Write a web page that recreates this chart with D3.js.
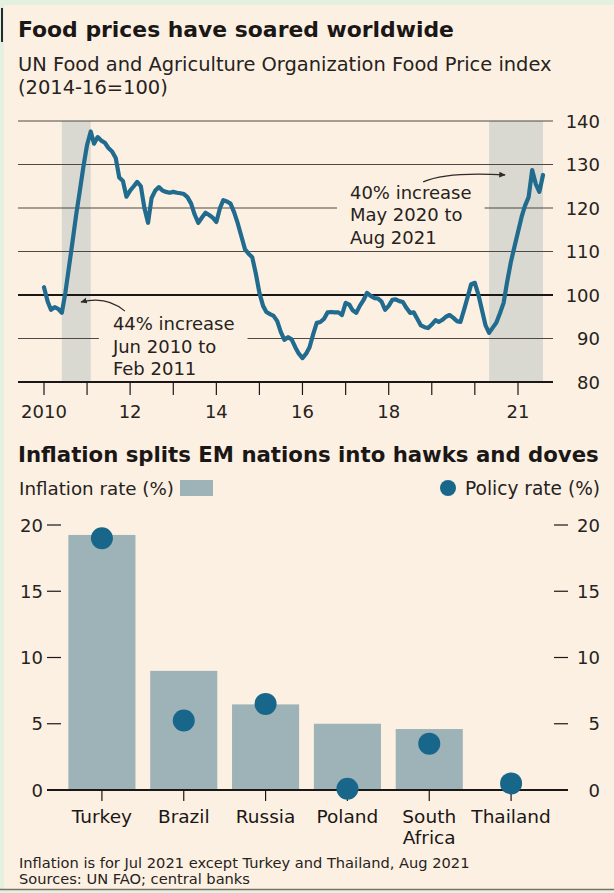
<!DOCTYPE html>
<html>
<head>
<meta charset="utf-8">
<script src="https://cdn.jsdelivr.net/npm/d3@7"></script>
<style>
  html, body { margin: 0; padding: 0; background: #e4f1e1; }
  svg { display: block; font-family: "DejaVu Sans", "Noto Sans", sans-serif; }
</style>
</head>
<body>
<svg id="chart" width="614" height="893"></svg>
<script>
// ---- Food price index: monthly, starting January 2010 (2014-16 = 100) ----
const fpiStartYear = 2010;
const foodPriceIndex = [
  101.8, 98.5, 96.6, 97.2, 96.8, 95.9, 100.5, 106.5, 112.5, 118.5, 124.0, 129.5, // 2010
  134.5, 137.6, 134.8, 136.3, 135.5, 135.0, 133.8, 133.0, 131.5, 127.0, 126.2, 122.6, // 2011
  124.0, 125.0, 126.0, 125.0, 120.0, 116.6, 122.3, 124.0, 124.8, 124.0, 123.7, 123.5, // 2012
  123.7, 123.5, 123.4, 123.2, 122.5, 121.0, 118.5, 116.6, 117.8, 118.9, 118.4, 117.8, // 2013
  116.8, 120.0, 121.8, 121.5, 121.0, 119.0, 116.5, 113.5, 110.5, 109.5, 108.7, 105.0, // 2014
  100.5, 97.5, 96.1, 95.6, 95.2, 94.0, 91.5, 89.7, 90.3, 89.8, 88.0, 86.5,             // 2015
  85.5, 86.5, 88.0, 91.0, 93.6, 93.8, 94.5, 96.0, 96.1, 96.0, 96.0, 95.4,              // 2016
  98.2, 97.8, 96.5, 95.9, 97.5, 98.8, 100.5, 99.8, 99.3, 99.2, 98.5, 96.6,             // 2017
  97.5, 98.9, 99.0, 98.6, 98.4, 97.0, 95.9, 96.0, 94.5, 93.0, 92.6, 92.4,              // 2018
  93.2, 94.2, 93.8, 94.3, 95.0, 95.4, 94.8, 94.0, 93.8, 96.5, 99.5, 102.5,             // 2019
  102.8, 100.0, 96.6, 93.0, 91.3, 92.5, 93.6, 95.8, 98.2, 103.0, 107.5, 111.0,         // 2020
  114.5, 118.0, 120.5, 122.5, 128.7, 125.5, 123.7, 127.6                              // 2021
];
const yearTicks = [2010, 2011, 2012, 2013, 2014, 2015, 2016, 2017, 2018, 2019, 2020, 2021];
const yearTickLabels = ["2010", "", "12", "", "14", "", "16", "", "18", "", "", "21"];
const indexTicks = [80, 90, 100, 110, 120, 130, 140];
// surge periods: [year, month index] start and end
const surgeStarts = [[2010, 5], [2020, 4]];
const surgeEnds = [[2011, 1], [2021, 7]];
const surgeNotes = [
  ["44% increase", "Jun 2010 to", "Feb 2011"],
  ["40% increase", "May 2020 to", "Aug 2021"]
];

// ---- EM inflation vs policy rates ----
const countries = ["Turkey", "Brazil", "Russia", "Poland", "South Africa", "Thailand"];
const inflationRate = [19.25, 8.99, 6.46, 5.0, 4.6, 0.02];
const policyRate = [19.0, 5.25, 6.5, 0.1, 3.5, 0.5];
const rateTicks = [0, 5, 10, 15, 20];

// ---- colours ----
const C = {
  paper: "#fcf0e2",
  ink: "#1a1716",
  text: "#262220",
  grid: "#4f4845",
  shade: "#d9d9d1",
  line: "#216b8f",
  bar: "#9db3b7",
  dot: "#18678b"
};

const svg = d3.select("#chart");

// decimal year -> Date
function fy(v) {
  const yr = Math.floor(v);
  const a = new Date(yr, 0, 1), b = new Date(yr + 1, 0, 1);
  return new Date(+a + (v - yr) * (b - a));
}

function fitWidth(sel, w) {
  const len = sel.node().getComputedTextLength();
  const fs = parseFloat(sel.attr("font-size"));
  sel.attr("font-size", (fs * w / len).toFixed(2));
  return sel;
}

// card
svg.append("rect").attr("x", 0).attr("y", 0).attr("width", 614).attr("height", 893).attr("fill", "#e4f1e1");
svg.append("rect").attr("x", 4).attr("y", 5).attr("width", 610).attr("height", 884).attr("fill", C.paper);
svg.append("line").attr("x1", 0).attr("x2", 614).attr("y1", 889.5).attr("y2", 889.5)
  .attr("stroke", "#7b7165").attr("stroke-width", 1.5);
svg.append("line").attr("x1", 2).attr("x2", 2).attr("y1", 8).attr("y2", 42)
  .attr("stroke", "#2b2b2b").attr("stroke-width", 2);

// ================= Top chart =================
const title1 = svg.append("text").attr("x", 18).attr("y", 37)
  .attr("font-size", 20).attr("font-weight", "bold").attr("fill", C.ink)
  .text("Food prices have soared worldwide");
fitWidth(title1, 436);

const sub1 = svg.append("text").attr("x", 18).attr("y", 71)
  .attr("font-size", 18).attr("fill", C.text)
  .text("UN Food and Agriculture Organization Food Price index");
fitWidth(sub1, 534);
svg.append("text").attr("x", 18).attr("y", 94)
  .attr("font-size", sub1.attr("font-size")).attr("fill", C.text)
  .text("(2014-16=100)");

const monthDates = foodPriceIndex.map((v, i) => new Date(fpiStartYear, i, 1));
const x = d3.scaleTime()
  .domain([new Date(2010, 0, 1), new Date(2021, 0, 1)])
  .range([44, 518]);
const y = d3.scaleLinear().domain([80, 140]).range([382, 121]);
const plotL = 18, plotR = 553;

const topG = svg.append("g");

// shaded surge periods
topG.selectAll("rect.surge").data(surgeStarts).join("rect")
  .attr("class", "surge")
  .attr("x", d => x(new Date(d[0], d[1], 1)))
  .attr("width", (d, i) => x(new Date(surgeEnds[i][0], surgeEnds[i][1], 1)) - x(new Date(d[0], d[1], 1)))
  .attr("y", y(140)).attr("height", y(80) - y(140))
  .attr("fill", C.shade);

// horizontal grid
topG.selectAll("line.grid").data(indexTicks.filter(t => t !== 80)).join("line")
  .attr("class", "grid")
  .attr("x1", plotL).attr("x2", plotR)
  .attr("y1", d => y(d)).attr("y2", d => y(d))
  .attr("stroke", d => d === 100 ? C.ink : C.grid)
  .attr("stroke-width", d => d === 100 ? 1.9 : 1.2);

// right-hand value labels
topG.selectAll("text.ylab").data(indexTicks).join("text")
  .attr("class", "ylab")
  .attr("x", 600).attr("y", d => y(d) + 6.5)
  .attr("text-anchor", "end").attr("font-size", 18).attr("fill", C.text)
  .text(d => d);

// annotations (positions in data space)
const noteAnchors = [[2011.60, 91.9], [2017.10, 122.1]];
const arrowPaths = [
  [[2011.88, 96.3], [2011.46, 99.9], [2010.86, 98.4]],
  [[2018.80, 126.0], [2019.35, 128.4], [2020.70, 127.6]]
];

svg.append("defs").append("marker")
  .attr("id", "ah").attr("viewBox", "0 0 10 10")
  .attr("refX", 8).attr("refY", 5)
  .attr("markerWidth", 6).attr("markerHeight", 6)
  .attr("orient", "auto-start-reverse")
  .append("path").attr("d", "M0,1 L9,5 L0,9 Z").attr("fill", "#2e2a28");

const noteG = topG.append("g");
surgeNotes.forEach((lines, i) => {
  const g = noteG.append("g");
  const bg = g.append("rect").attr("fill", C.paper);
  const t = g.append("text")
    .attr("x", x(fy(noteAnchors[i][0])))
    .attr("y", y(noteAnchors[i][1]))
    .attr("font-size", 18).attr("fill", C.text);
  t.selectAll("tspan").data(lines).join("tspan")
    .attr("x", x(fy(noteAnchors[i][0])))
    .attr("dy", (d, j) => j === 0 ? 0 : 22.5)
    .text(d => d);
  const bb = t.node().getBBox();
  bg.attr("x", bb.x - 13).attr("y", bb.y - 1)
    .attr("width", bb.width + 26).attr("height", bb.height + 1);
  const p = arrowPaths[i].map(q => [x(fy(q[0])), y(q[1])]);
  g.append("path")
    .attr("d", `M${p[0][0]},${p[0][1]} Q${p[1][0]},${p[1][1]} ${p[2][0]},${p[2][1]}`)
    .attr("fill", "none").attr("stroke", "#2e2a28").attr("stroke-width", 1.2)
    .attr("marker-end", "url(#ah)");
});

// baseline axis + yearly ticks
topG.append("line").attr("x1", plotL).attr("x2", plotR)
  .attr("y1", y(80)).attr("y2", y(80))
  .attr("stroke", C.ink).attr("stroke-width", 2);
topG.selectAll("line.xt").data(yearTicks).join("line")
  .attr("class", "xt")
  .attr("x1", d => x(new Date(d, 0, 1))).attr("x2", d => x(new Date(d, 0, 1)))
  .attr("y1", y(80)).attr("y2", y(80) + 13)
  .attr("stroke", C.ink).attr("stroke-width", 1.2);
topG.selectAll("text.xl").data(yearTicks).join("text")
  .attr("class", "xl")
  .attr("x", d => x(new Date(d, 0, 1))).attr("y", 418)
  .attr("text-anchor", "middle").attr("font-size", 18).attr("fill", C.text)
  .text((d, i) => yearTickLabels[i]);

// index line
topG.append("path")
  .datum(foodPriceIndex)
  .attr("d", d3.line().x((d, i) => x(monthDates[i])).y(d => y(d)))
  .attr("fill", "none").attr("stroke", C.line).attr("stroke-width", 4.2)
  .attr("stroke-linejoin", "round").attr("stroke-linecap", "round");

// ================= Bottom chart =================
const title2 = svg.append("text").attr("x", 18).attr("y", 462)
  .attr("font-size", 20).attr("font-weight", "bold").attr("fill", C.ink)
  .text("Inflation splits EM nations into hawks and doves");
fitWidth(title2, 581);

const leg1 = svg.append("text").attr("x", 19).attr("y", 495)
  .attr("font-size", 17).attr("fill", C.text).text("Inflation rate (%)");
fitWidth(leg1, 155);
svg.append("rect").attr("x", 180).attr("y", 480).attr("width", 33).attr("height", 16).attr("fill", C.bar);
const leg2 = svg.append("text").attr("x", 600).attr("y", 495).attr("text-anchor", "end")
  .attr("font-size", 17).attr("fill", C.text).text("Policy rate (%)");
fitWidth(leg2, 135);
svg.append("circle").attr("cx", 448).attr("cy", 488).attr("r", 8).attr("fill", C.dot);

const xb = d3.scaleBand().domain(countries).range([61, 552])
  .paddingInner(0.18).paddingOuter(0.09);
const yb = d3.scaleLinear().domain([0, 20]).range([790, 525]);
const bot = svg.append("g");

// bars
bot.selectAll("rect.bar").data(countries).join("rect")
  .attr("class", "bar")
  .attr("x", d => xb(d)).attr("width", xb.bandwidth())
  .attr("y", (d, i) => yb(inflationRate[i]))
  .attr("height", (d, i) => yb(0) - yb(inflationRate[i]))
  .attr("fill", C.bar);

// left and right scales
const leftTicks = bot.append("g");
leftTicks.selectAll("line").data(rateTicks.filter(t => t > 0)).join("line")
  .attr("x1", 47).attr("x2", 61).attr("y1", d => yb(d)).attr("y2", d => yb(d))
  .attr("stroke", C.ink).attr("stroke-width", 1.2);
leftTicks.selectAll("text").data(rateTicks).join("text")
  .attr("x", 43).attr("y", d => yb(d) + 6.5).attr("text-anchor", "end")
  .attr("font-size", 18).attr("fill", C.text).text(d => d);
const rightTicks = bot.append("g");
rightTicks.selectAll("line").data(rateTicks.filter(t => t > 0)).join("line")
  .attr("x1", 554).attr("x2", 568).attr("y1", d => yb(d)).attr("y2", d => yb(d))
  .attr("stroke", C.ink).attr("stroke-width", 1.2);
rightTicks.selectAll("text").data(rateTicks).join("text")
  .attr("x", 600).attr("y", d => yb(d) + 6.5).attr("text-anchor", "end")
  .attr("font-size", 18).attr("fill", C.text).text(d => d);

// baseline and category ticks
bot.append("line").attr("x1", 47).attr("x2", 568).attr("y1", yb(0)).attr("y2", yb(0))
  .attr("stroke", C.ink).attr("stroke-width", 2);
bot.selectAll("line.ct").data(countries).join("line")
  .attr("class", "ct")
  .attr("x1", d => xb(d) + xb.bandwidth() / 2).attr("x2", d => xb(d) + xb.bandwidth() / 2)
  .attr("y1", yb(0)).attr("y2", yb(0) + 11)
  .attr("stroke", C.ink).attr("stroke-width", 1.2);

// policy-rate dots
bot.selectAll("circle.dot").data(countries).join("circle")
  .attr("class", "dot")
  .attr("cx", d => xb(d) + xb.bandwidth() / 2)
  .attr("cy", (d, i) => yb(policyRate[i]))
  .attr("r", 11).attr("fill", C.dot);

// category labels
bot.selectAll("text.cat").data(countries).join("text")
  .attr("class", "cat")
  .attr("x", d => xb(d) + xb.bandwidth() / 2).attr("y", 823)
  .attr("text-anchor", "middle").attr("font-size", 18.5).attr("fill", C.ink)
  .each(function (d) {
    const words = d === "South Africa" ? ["South", "Africa"] : [d];
    const cx = xb(d) + xb.bandwidth() / 2;
    d3.select(this).selectAll("tspan").data(words).join("tspan")
      .attr("x", cx).attr("dy", (w, j) => j === 0 ? 0 : 20.5).text(w => w);
  });

// footnotes
const f1 = svg.append("text").attr("x", 19).attr("y", 868)
  .attr("font-size", 14).attr("fill", C.text)
  .text("Inflation is for Jul 2021 except Turkey and Thailand, Aug 2021");
fitWidth(f1, 451);
const f2 = svg.append("text").attr("x", 19).attr("y", 884)
  .attr("font-size", f1.attr("font-size")).attr("fill", C.text)
  .text("Sources: UN FAO; central banks");
</script>
</body>
</html>
